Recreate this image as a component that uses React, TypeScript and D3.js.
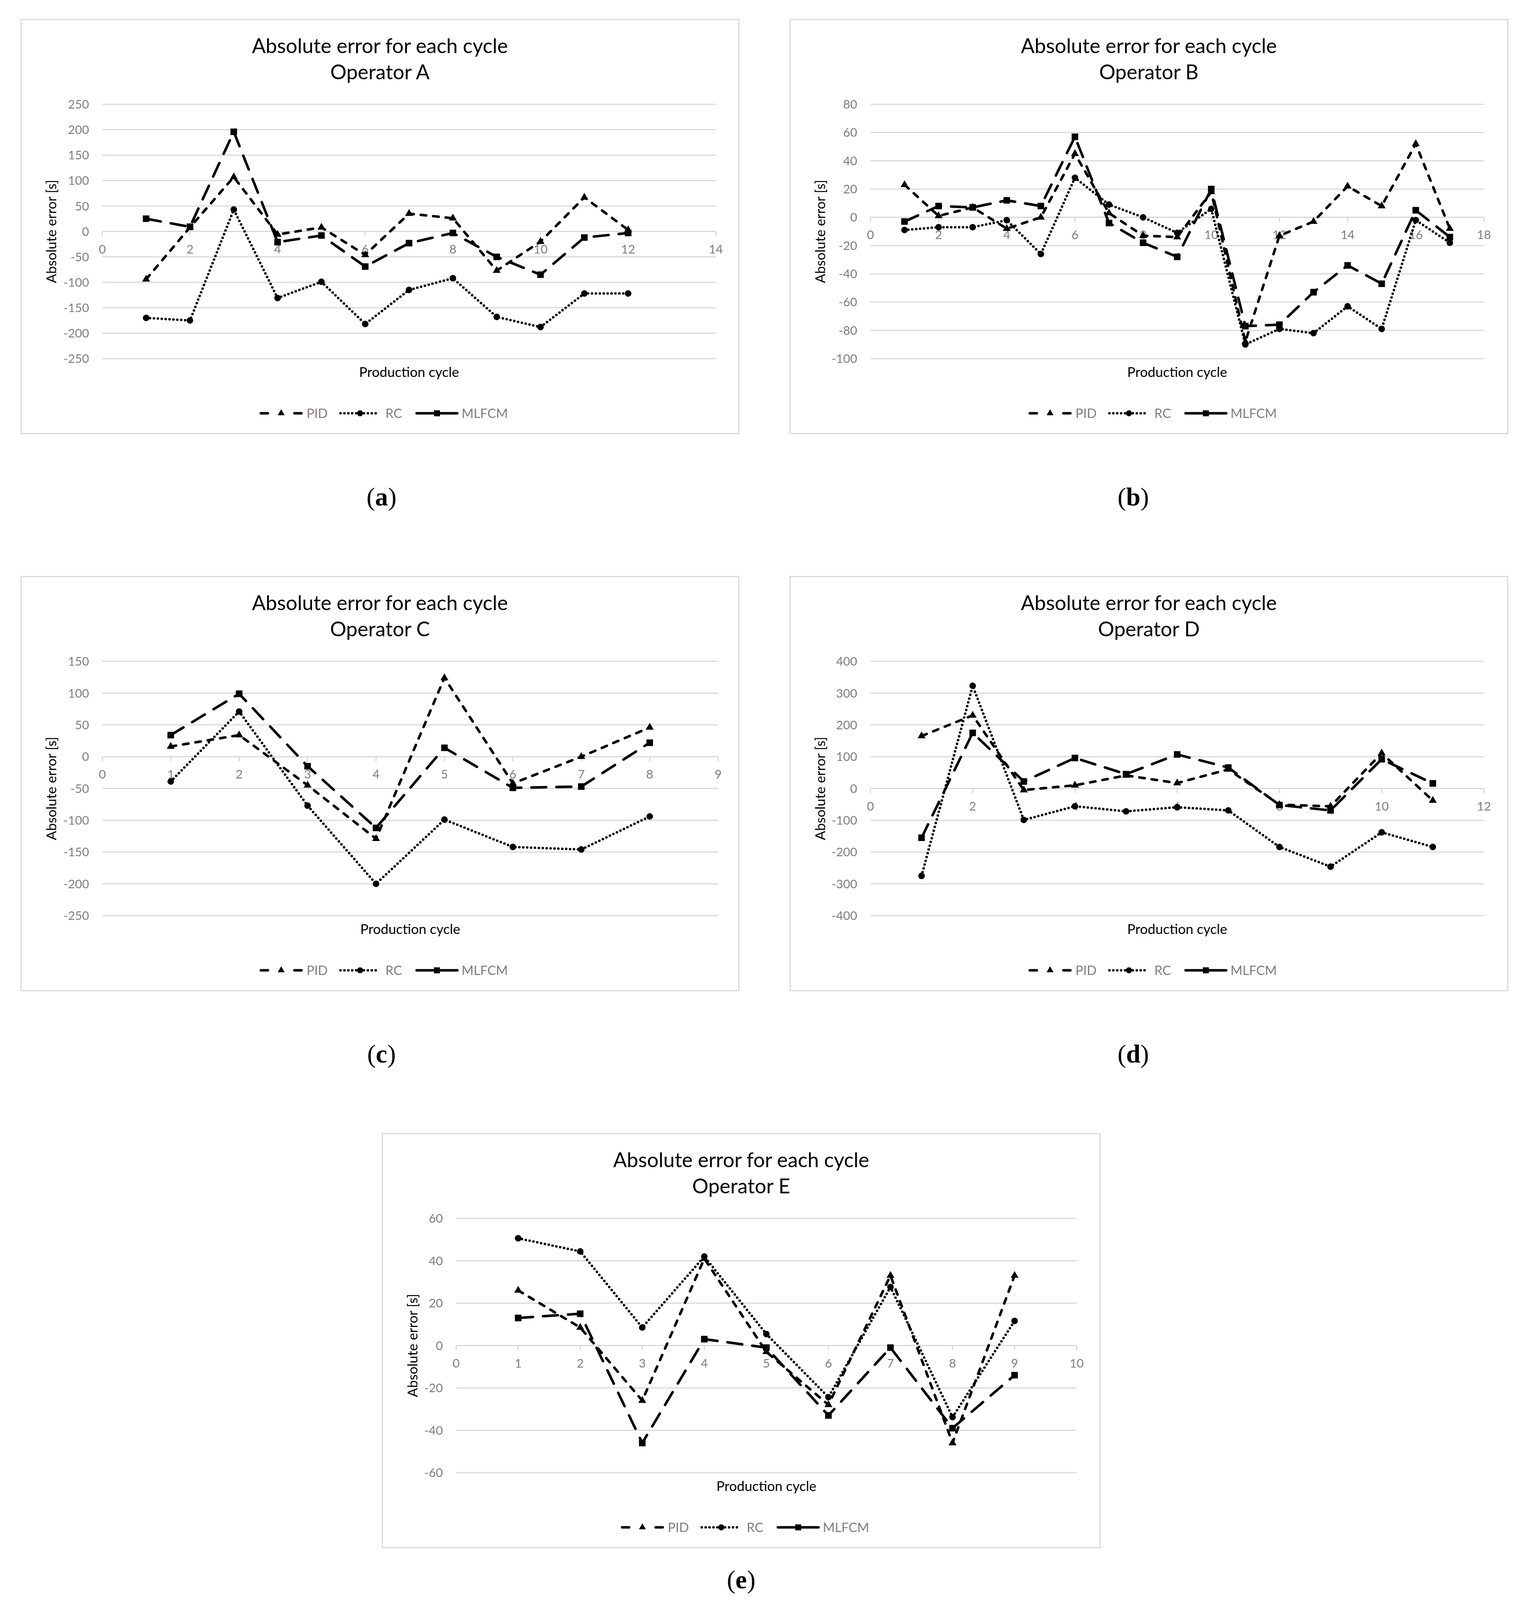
import React from "react";
import * as d3 from "d3";

// ---------- data ----------
const cyclesA = [1, 2, 3, 4, 5, 6, 7, 8, 9, 10, 11, 12];
const pidA = [-94, 8, 107, -6, 8, -46, 35, 26, -77, -20, 67, 3];
const rcA = [-170, -175, 43, -131, -99, -182, -115, -92, -168, -188, -122, -122];
const mlfcmA = [25, 9, 196, -21, -8, -69, -23, -3, -50, -85, -12, -3];

const cyclesB = [1, 2, 3, 4, 5, 6, 7, 8, 9, 10, 11, 12, 13, 14, 15, 16, 17];
const pidB = [23, 1, 7, -8, 0, 45, 3, -13, -14, 18, -88, -13, -3, 22, 8, 52, -8];
const rcB = [-9, -7, -7, -2, -26, 28, 9, 0, -11, 6, -90, -79, -82, -63, -79, -2, -18];
const mlfcmB = [-3, 8, 7, 12, 8, 57, -4, -18, -28, 20, -77, -76, -53, -34, -47, 5, -14];

const cyclesC = [1, 2, 3, 4, 5, 6, 7, 8];
const pidC = [16, 34, -45, -129, 124, -42, 0, 46];
const rcC = [-39, 71, -77, -200, -99, -142, -146, -94];
const mlfcmC = [34, 99, -15, -112, 14, -49, -47, 22];

const cyclesD = [1, 2, 3, 4, 5, 6, 7, 8, 9, 10, 11];
const pidD = [165, 230, -5, 10, 41, 17, 60, -51, -56, 111, -38];
const rcD = [-275, 323, -99, -56, -72, -59, -69, -184, -246, -138, -184];
const mlfcmD = [-155, 175, 22, 96, 45, 107, 66, -52, -69, 92, 16];

const cyclesE = [1, 2, 3, 4, 5, 6, 7, 8, 9];
const pidE = [26, 8.5, -26, 41, -3, -28, 33, -46, 33];
const rcE = [50.6, 44.4, 8.5, 42, 5.4, -24.4, 27.6, -33.8, 11.6];
const mlfcmE = [13, 15, -46, 3, -1, -33, -1, -39, -14];

const seriesNames = ["PID", "RC", "MLFCM"];
const chartTitle = "Absolute error for each cycle";
const xAxisTitle = "Production cycle";
const yAxisTitle = "Absolute error [s]";

// ---------- layout ----------
const PANEL_W = 1838;
const PANEL_H = 1060;
const PLOT_TOP = 217;
const PLOT_BOTTOM = 868;

const panels = [
  { id: "a", op: "Operator A", x0: 54, y0: 50, cycles: cyclesA, pid: pidA, rc: rcA, mlfcm: mlfcmA, xMax: 14, xStep: 2, yMin: -250, yMax: 250, yStep: 50, left: 208, right: 1779, lx: 977, ly: 1294 },
  { id: "b", op: "Operator B", x0: 2023, y0: 50, cycles: cyclesB, pid: pidB, rc: rcB, mlfcm: mlfcmB, xMax: 18, xStep: 2, yMin: -100, yMax: 80, yStep: 20, left: 206, right: 1777, lx: 2902, ly: 1294 },
  { id: "c", op: "Operator C", x0: 54, y0: 1476, cycles: cyclesC, pid: pidC, rc: rcC, mlfcm: mlfcmC, xMax: 9, xStep: 1, yMin: -250, yMax: 150, yStep: 50, left: 208, right: 1785, lx: 977, ly: 2720 },
  { id: "d", op: "Operator D", x0: 2023, y0: 1476, cycles: cyclesD, pid: pidD, rc: rcD, mlfcm: mlfcmD, xMax: 12, xStep: 2, yMin: -400, yMax: 400, yStep: 100, left: 206, right: 1777, lx: 2902, ly: 2720 },
  { id: "e", op: "Operator E", x0: 979, y0: 2902, cycles: cyclesE, pid: pidE, rc: rcE, mlfcm: mlfcmE, xMax: 10, xStep: 1, yMin: -60, yMax: 60, yStep: 20, left: 189, right: 1778, lx: 1898, ly: 4138 },
];

const GRID = "#d9d9d9";
const TICK_TXT = "#7f7f7f";
const FONT = "Lato, 'Open Sans', sans-serif";
const LW = 6.5;

const styles = [
  { dash: "14 18", legendDash: "18 68 18", symbol: d3.symbolTriangle, size: 135 },
  { dash: "0 10", legendDash: "0 10", symbol: d3.symbolCircle, size: 185 },
  { dash: "38 26", legendDash: "none", symbol: d3.symbolSquare, size: 235 },
];

function Panel({ p }: { p: any }) {
  const x = d3.scaleLinear().domain([0, p.xMax]).range([p.left, p.right]);
  const y = d3.scaleLinear().domain([p.yMin, p.yMax]).range([PLOT_BOTTOM, PLOT_TOP]);
  const yTicks = d3.range(p.yMin, p.yMax + p.yStep / 2, p.yStep);
  const xTicks = d3.range(0, p.xMax + p.xStep / 2, p.xStep);
  const y0 = y(0);
  const seriesVals = [p.pid, p.rc, p.mlfcm];
  const line = d3
    .line<[number, number]>()
    .x((d) => x(d[0]))
    .y((d) => y(d[1]));
  const midY = (PLOT_TOP + PLOT_BOTTOM) / 2;
  const midX = (p.left + p.right) / 2;

  const legendItems = [
    { lx1: 614, lx2: 718, tx: 731 },
    { lx1: 818, lx2: 918, tx: 933 },
    { lx1: 1013, lx2: 1117, tx: 1128 },
  ];
  const LEG_Y = 1008;

  return (
    <g transform={`translate(${p.x0},${p.y0})`}>
      <rect x={0} y={0} width={PANEL_W} height={PANEL_H} fill="#fff" stroke={GRID} strokeWidth={3} />
      <text x={PANEL_W / 2} y={86} textAnchor="middle" fontFamily={FONT} fontSize={52} fill="#000">
        {chartTitle}
      </text>
      <text x={PANEL_W / 2} y={153} textAnchor="middle" fontFamily={FONT} fontSize={52} fill="#000">
        {p.op}
      </text>
      {yTicks.map((t: number) => (
        <g key={"y" + t}>
          <line x1={p.left} x2={p.right} y1={y(t)} y2={y(t)} stroke={GRID} strokeWidth={3} />
          <text x={p.left - 34} y={y(t)} dy="0.36em" textAnchor="end" fontFamily={FONT} fontSize={31} fill={TICK_TXT}>
            {String(t)}
          </text>
        </g>
      ))}
      <line x1={p.left} x2={p.right} y1={y0} y2={y0} stroke={GRID} strokeWidth={3} />
      {xTicks.map((t: number) => (
        <g key={"x" + t}>
          <line x1={x(t)} x2={x(t)} y1={y0} y2={y0 + 12} stroke={GRID} strokeWidth={3} />
          <text x={x(t)} y={y0 + 56} textAnchor="middle" fontFamily={FONT} fontSize={31} fill={TICK_TXT}>
            {String(t)}
          </text>
        </g>
      ))}
      <text
        transform={`translate(78,${midY}) rotate(-90)`}
        textAnchor="middle"
        dy="0.35em"
        fontFamily={FONT}
        fontSize={35}
        fill="#000"
      >
        {yAxisTitle}
      </text>
      <text x={midX} y={915} textAnchor="middle" fontFamily={FONT} fontSize={35} fill="#000">
        {xAxisTitle}
      </text>
      {seriesVals.map((vals: number[], si: number) => {
        const pts: [number, number][] = p.cycles.map((c: number, i: number) => [c, vals[i]]);
        const st = styles[si];
        const sym = d3.symbol().type(st.symbol).size(st.size)();
        return (
          <g key={"s" + si}>
            <path d={line(pts) || ""} fill="none" stroke="#000" strokeWidth={LW} strokeDasharray={st.dash} strokeLinecap="round" strokeLinejoin="round" />
            {pts.map((d, i) => (
              <path key={i} d={sym || ""} transform={`translate(${x(d[0])},${y(d[1])})`} fill="#000" stroke="#000" strokeWidth={1.5} />
            ))}
          </g>
        );
      })}
      {legendItems.map((li, si) => {
        const st = styles[si];
        const sym = d3.symbol().type(st.symbol).size(st.size)();
        const cx = (li.lx1 + li.lx2) / 2;
        return (
          <g key={"l" + si}>
            <line x1={li.lx1} x2={li.lx2} y1={LEG_Y} y2={LEG_Y} stroke="#000" strokeWidth={LW} strokeDasharray={st.legendDash} strokeLinecap="round" />
            <path d={sym || ""} transform={`translate(${cx},${LEG_Y})`} fill="#000" />
            <text x={li.tx} y={LEG_Y} dy="0.36em" fontFamily={FONT} fontSize={33} fill={TICK_TXT}>
              {seriesNames[si]}
            </text>
          </g>
        );
      })}
    </g>
  );
}

export default function App() {
  const viewH = typeof window !== "undefined" && window.innerHeight ? window.innerHeight : 4195;
  return (
    <svg
      width={3918}
      height={4195}
      viewBox="0 0 3918 4195"
      style={{ position: "absolute", left: 0, top: 0, background: "#fff" }}
    >
      <rect x={0} y={0} width={3918} height={4195} fill="#fff" />
      {panels.map((p) => (
        <Panel key={p.id} p={p} />
      ))}
      {panels.map((p) => (
        <text
          key={"lab" + p.id}
          x={p.lx}
          y={Math.min(p.ly, viewH - 30)}
          textAnchor="middle"
          fontFamily="'Liberation Serif', 'Times New Roman', serif"
          fontSize={66}
          fill="#000"
        >
          (<tspan fontWeight="bold">{p.id}</tspan>)
        </text>
      ))}
    </svg>
  );
}
